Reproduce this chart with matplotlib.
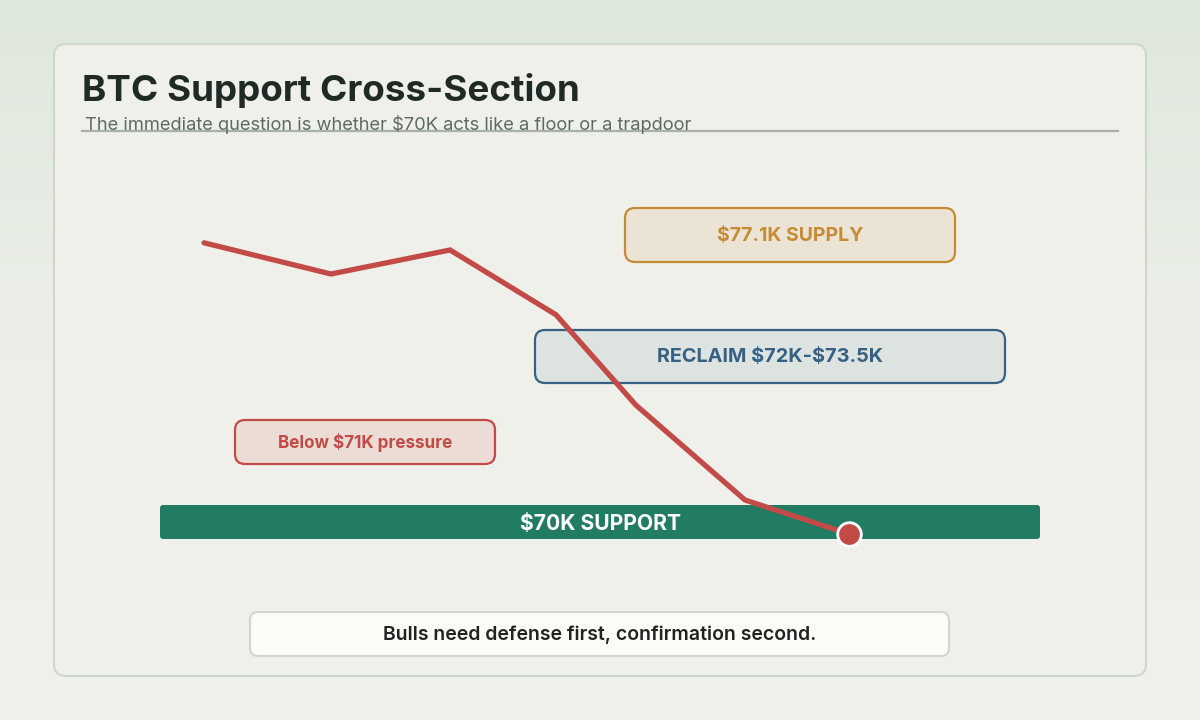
import matplotlib.pyplot as plt
import numpy as np
from matplotlib.patches import FancyBboxPatch

plt.rcParams['font.family'] = ['Inter', 'DejaVu Sans']

# ---------------------- data
title = "BTC Support Cross-Section"
subtitle = r"The immediate question is whether \$70K acts like a floor or a trapdoor"
session_x = [204, 331, 450, 556, 636, 745, 849]            # horizontal step of the path
price_k = [76.98, 76.20, 76.80, 75.18, 72.92, 70.55, 69.70]  # schematic price, $K
support_k = 70.0
supply_label = r"\$77.1K SUPPLY"
reclaim_label = r"RECLAIM \$72K-\$73.5K"
pressure_label = r"Below \$71K pressure"
support_label = r"\$70K SUPPORT"
footer = "Bulls need defense first, confirmation second."

# ---------------------- colours
red = '#c24b47'
green = '#227c63'
gold = '#c68b35'
blue = '#366183'

fig = plt.figure(figsize=(12, 7.2), dpi=100)

# background axes in pixel units
bg = fig.add_axes([0, 0, 1, 1])
bg.set_xlim(0, 1200)
bg.set_ylim(720, 0)
bg.axis('off')
grad = np.linspace(0, 1, 256).reshape(-1, 1)
cmap = plt.matplotlib.colors.LinearSegmentedColormap.from_list("", ['#dfe8dd', '#ecefe8', '#eff1ec'])
bg.imshow(grad, cmap=cmap, extent=[0, 1200, 720, 0], aspect='auto', zorder=0)


def box(ax, x0, y0, x1, y1, fc, ec, lw=1.5, r=10, z=2, aspect=1):
    p = FancyBboxPatch((x0, y0), x1 - x0, y1 - y0,
                       boxstyle=f"round,pad=0,rounding_size={r}",
                       mutation_aspect=aspect,
                       fc=fc, ec=ec, lw=lw, zorder=z)
    ax.add_patch(p)


box(bg, 54, 44, 1146, 676, '#f0f0ea', '#cfd6cc', lw=1.5, r=12, z=1)

bg.text(82, 91, title, fontsize=26.5, fontweight='bold', color='#1f2a24',
        va='center', ha='left', zorder=5)
bg.text(85, 124, subtitle, fontsize=13.2, color='#5d6b62', va='center', ha='left', zorder=5)
bg.plot([82, 1118], [131, 131], color='#a9b0a8', lw=1.6, zorder=4)

box(bg, 625, 208, 955, 262, '#ebe4d4', gold, lw=1.6)
bg.text(790, 236, supply_label, fontsize=14, fontweight='bold', color=gold,
        ha='center', va='center', zorder=3)

box(bg, 535, 330, 1005, 383, '#dde3e1', blue, lw=1.6)
bg.text(770, 357, reclaim_label, fontsize=14.3, fontweight='bold', color=blue,
        ha='center', va='center', zorder=3)

box(bg, 235, 420, 495, 464, '#ecdcd6', red, lw=1.6)
bg.text(365, 443, pressure_label, fontsize=12.3, fontweight='bold', color=red,
        ha='center', va='center', zorder=3)

box(bg, 250, 612, 949, 656, '#fcfbf6', '#d0d5ce', lw=1.5, r=8)
bg.text(600, 635, footer, fontsize=14, fontweight='semibold', color='#1f2420',
        ha='center', va='center', zorder=3)

# chart axes: x in pixel steps, y in $K (40 px per $1K, 70K at y=522)
ax = fig.add_axes([0, 0, 1, 1])
ax.patch.set_alpha(0)
ax.axis('off')
ax.set_xlim(0, 1200)
ax.set_ylim(70 - 198 / 40, 70 + 522 / 40)

band = 17 / 40
box(ax, 160, support_k - band, 1040, support_k + band, green, 'none', lw=0, r=3, z=3,
    aspect=1 / 40)
ax.text(600, support_k - 0.05, support_label, fontsize=15.2, fontweight='bold', color='white',
        ha='center', va='center', zorder=4)

ax.plot(session_x, price_k, color=red, lw=3.8, solid_capstyle='round',
        solid_joinstyle='miter', zorder=6)
ax.plot(session_x[-1], price_k[-1], 'o', ms=17, mfc=red, mec='white', mew=2, zorder=7)

fig.savefig('out.png', dpi=100)
